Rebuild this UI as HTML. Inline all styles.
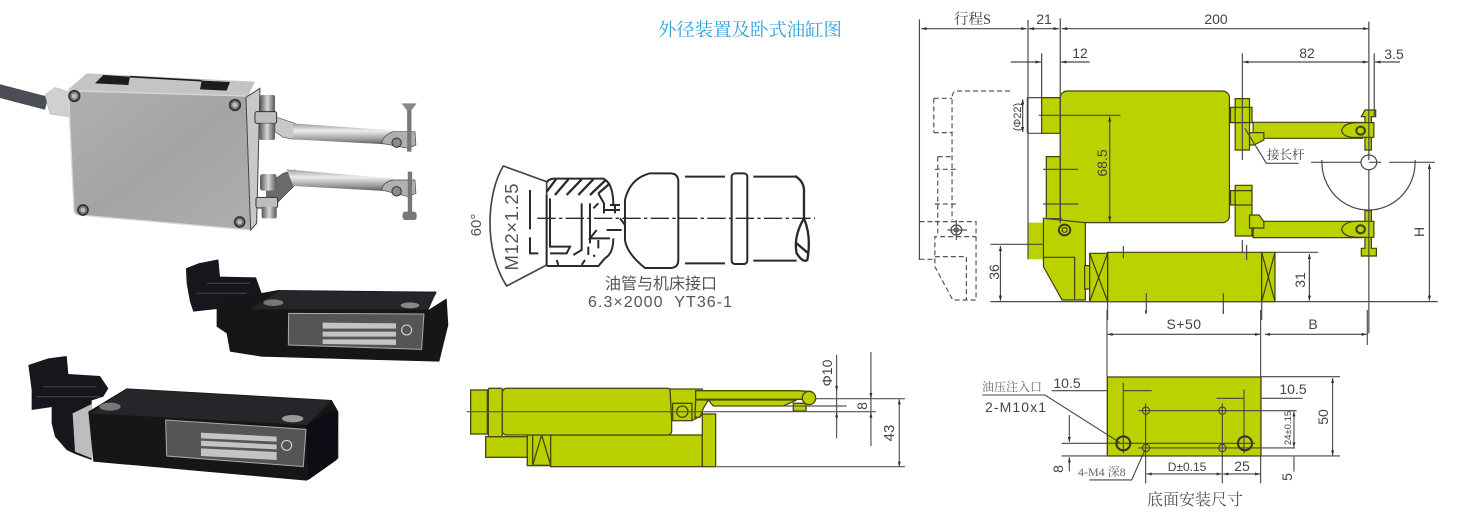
<!DOCTYPE html>
<html><head><meta charset="utf-8"><style>
html,body{margin:0;padding:0;background:#fff}
svg{display:block}
text{font-family:"Liberation Sans","Noto Sans CJK SC",sans-serif;fill:#444;filter:blur(.25px)}
.s{font-family:"Liberation Serif","Noto Serif CJK SC",serif}
.l *{vector-effect:non-scaling-stroke}
</style></head><body>
<svg width="1459" height="514" viewBox="0 0 1459 514" xmlns="http://www.w3.org/2000/svg">
<defs>
<filter id="b"><feGaussianBlur stdDeviation="0.45"/></filter>
<filter id="b2"><feGaussianBlur stdDeviation="0.7"/></filter>
<linearGradient id="pl" x1="0" y1="0" x2="1" y2="1"><stop offset="0" stop-color="#b0b0b0"/><stop offset=".5" stop-color="#a4a4a4"/><stop offset="1" stop-color="#aeaeae"/></linearGradient>
<linearGradient id="arm" x1="0" y1="0" x2="0" y2="1"><stop offset="0" stop-color="#9a9a9a"/><stop offset=".35" stop-color="#ededed"/><stop offset=".75" stop-color="#999"/><stop offset="1" stop-color="#555"/></linearGradient>
<linearGradient id="nut" x1="0" y1="0" x2="1" y2="0"><stop offset="0" stop-color="#555"/><stop offset=".5" stop-color="#d8d8d8"/><stop offset="1" stop-color="#555"/></linearGradient>
<marker id="a" viewBox="0 0 10 6" refX="10" refY="3" markerWidth="16" markerHeight="9" markerUnits="userSpaceOnUse" orient="auto-start-reverse"><path d="M0,0L10,3L0,6z" fill="#333"/></marker>
</defs>

<!-- top photo -->
<g transform="translate(0,60) scale(.3333)" filter="url(#b2)">
<path d="M-5,92L140,130" stroke="#4c4f55" stroke-width="40" fill="none"/>
<path d="M135,105L165,82L215,100L205,170L150,162z" fill="#d0d0d0" stroke="#888"/>
<path d="M205,88L260,40L765,65L745,108L205,95z" fill="#c4c4c4"/>
<path d="M285,70L310,45L390,50L385,75zM600,88L605,62L690,66L680,92z" fill="#1c1c1c"/>
<path d="M390,50L605,62" stroke="#1c1c1c" stroke-width="5"/>
<path d="M205,92L735,108Q745,110 745,125L752,510L235,465Q222,462 222,450z" fill="url(#pl)" stroke="#d8d8d8" stroke-width="4"/>
<path d="M738,112L780,85L770,490L752,510z" fill="#c8c8c8" stroke="#444" stroke-width="3"/>
<g fill="#777" stroke="#333" stroke-width="5"><circle cx="223" cy="108" r="16"/><circle cx="705" cy="135" r="16"/><circle cx="249" cy="450" r="15"/><circle cx="719" cy="486" r="15"/></g>
<g fill="#bbb"><circle cx="223" cy="108" r="8"/><circle cx="705" cy="135" r="8"/><circle cx="249" cy="450" r="7"/><circle cx="719" cy="486" r="7"/></g>
<!-- clamps -->
<path d="M825,170L885,190V238L850,232L825,215z" fill="#c8c8c8" stroke="#555" stroke-width="2"/>
<rect x="780" y="105" width="45" height="70" rx="6" fill="url(#nut)"/>
<rect x="765" y="155" width="65" height="35" rx="6" fill="#bdbdbd" stroke="#333" stroke-width="3"/>
<rect x="778" y="190" width="47" height="50" rx="6" fill="url(#nut)"/>
<path d="M850,340L885,330L885,375L835,425H800V375z" fill="#6a6a6a" stroke="#333" stroke-width="2"/>
<rect x="780" y="342" width="50" height="50" rx="8" fill="url(#nut)"/>
<rect x="768" y="412" width="65" height="32" rx="6" fill="#bdbdbd" stroke="#333" stroke-width="3"/>
<rect x="785" y="440" width="45" height="35" rx="6" fill="url(#nut)"/>
<!-- arms -->
<path d="M880,190L1190,212L1195,255L880,238z" fill="url(#arm)"/>
<path d="M860,328L1180,356L1195,395L880,378z" fill="url(#arm)"/>
<path d="M1145,250Q1150,225 1180,215L1245,215L1248,255L1225,265z" fill="#b0b0b0" stroke="#444" stroke-width="2"/>
<path d="M1145,390Q1150,365 1180,360L1245,360L1248,400L1225,410z" fill="#b0b0b0" stroke="#444" stroke-width="2"/>
<circle cx="1190" cy="248" r="14" fill="#8a8a8a" stroke="#333" stroke-width="3"/><circle cx="1190" cy="394" r="14" fill="#8a8a8a" stroke="#333" stroke-width="3"/>
<path d="M1228,150V275M1230,335V465" stroke="#777" stroke-width="13"/>
<path d="M1205,130H1250L1235,150H1220z" fill="#888"/><rect x="1208" y="455" width="42" height="25" rx="8" fill="#777"/>
</g>

<!-- black modules -->
<g transform="translate(20,250) scale(.3333)" filter="url(#b2)">
<path d="M498,55L535,40L595,28L600,80L708,82L725,130L660,150L655,170L520,185L510,155L500,100z" fill="#17181a"/>
<path d="M530,130H680M560,100H690" stroke="#3a3b40" stroke-width="4"/>
<path d="M590,165L665,140L775,120L1250,125L1225,180L1280,145L1285,225L1258,335L725,320L630,305L620,250L590,230z" fill="#131416"/>
<path d="M780,122L1250,128L1222,178L690,178z" fill="#25262a"/>
<ellipse cx="760" cy="158" rx="30" ry="10" fill="#777"/><ellipse cx="1170" cy="166" rx="28" ry="9" fill="#888"/>
<path d="M806,190L1212,192L1205,298L805,285z" fill="#555" stroke="#aaa" stroke-width="3"/>
<path d="M908,218L1128,220V236H908zM908,245H1128V260H908zM908,268H1128V285L908,282z" fill="#c4c4c4"/>
<circle cx="1160" cy="240" r="15" fill="none" stroke="#ddd" stroke-width="3"/>
<path d="M25,345L85,325L140,318L145,372L240,378L265,415L250,440L205,455L35,480L35,420z" fill="#15161a"/>
<path d="M70,410H230M50,440H240" stroke="#3a3b40" stroke-width="4"/>
<path d="M95,470L215,445L215,630L165,612L140,600L105,560L95,520z" fill="#15161a"/>
<path d="M158,490L215,462L215,625L165,605z" fill="#bdbdbd"/>
<path d="M205,485L320,415L935,450L955,485L955,625L860,692L220,635z" fill="#131416"/>
<path d="M320,417L933,452L860,525L210,490z" fill="#25262a"/>
<path d="M860,525L935,480L955,490L950,630L865,690z" fill="#0f1012"/>
<ellipse cx="270" cy="470" rx="32" ry="12" fill="#777"/><ellipse cx="818" cy="506" rx="32" ry="11" fill="#999"/>
<path d="M437,510L858,538L850,650L440,618z" fill="#555" stroke="#aaa" stroke-width="3"/>
<path d="M543,548L770,560V575L543,565zM543,572L770,584V598L543,588zM543,595L770,606V630L543,618z" fill="#c4c4c4"/>
<circle cx="800" cy="586" r="15" fill="none" stroke="#ddd" stroke-width="3"/>
</g>

<!-- title -->
<text x="658" y="36" class="s" font-size="18.4" style="fill:#2f9fdc">外径装置及卧式油缸图</text>

<!-- center connector drawing -->
<g transform="translate(450,150) scale(.3333)" filter="url(#b)" fill="none" stroke="#2c2c2c" stroke-width="6">
<path d="M170,408C100,300 110,130 160,48L290,95L290,345z" stroke="#444" stroke-width="5"/>
<path d="M290,98Q295,88 310,86H460Q490,100 490,165M490,265Q490,310 465,325L445,348H290"/>
<path d="M290,125L318,88M315,135L355,88M350,135L395,88M385,135L430,88M420,135L465,92M445,130L480,100" stroke-width="7"/>
<path d="M290,135V345M300,145V290H360L350,310H300M395,160V300L370,315M420,160V280M445,130L462,160V190M445,160L430,175M440,240L420,265L480,265M465,180H510M470,240H515M480,165H510M495,165V190M510,205L525,225V245M415,290V315M445,270V295M320,330L325,345M405,330L395,345M430,315L435,320"/>
<path d="M240,120V238M240,262V310H265" />
<path d="M262,205H1095" stroke-dasharray="55,10,10,10" stroke-width="4"/>
<path d="M600,70H660Q685,70 685,95V330Q685,354 660,354H585Q530,310 525,270V150Q540,85 600,70z"/>
<path d="M705,80H825M705,340H825M910,80H1040M910,332H1040" />
<rect x="845" y="70" width="47" height="272" rx="10"/>
<path d="M1035,78Q1065,95 1062,130V205Q1030,260 1040,310Q1060,340 1072,330Q1085,260 1062,205M1040,280L1075,310" stroke-width="7"/>
</g>
<text transform="translate(518,227) rotate(-90)" text-anchor="middle" font-size="18.5" textLength="87" style="fill:#555">M12×1.25</text>
<text transform="translate(481,225) rotate(-90)" text-anchor="middle" font-size="15" style="fill:#555">60°</text>
<text x="605" y="289" font-size="16" style="fill:#555">油管与机床接口</text>
<text x="588" y="307" font-size="16" textLength="144" xml:space="preserve" style="fill:#555">6.3×2000  YT36-1</text>

<!-- lower center drawing -->
<g transform="translate(450,340) scale(.3333)" filter="url(#b)" stroke="#4a4a10" stroke-width="4">
<rect x="62" y="150" width="50" height="132" fill="#bbd000"/>
<rect x="107" y="290" width="125" height="62" fill="#bbd000"/>
<rect x="232" y="285" width="70" height="92" fill="#bbd000"/>
<path d="M248,376V285M302,285V376M248,376L275,285L302,376M248,376H302" fill="none"/>
<rect x="302" y="285" width="455" height="95" fill="#bbd000"/>
<rect x="757" y="222" width="40" height="158" fill="#bbd000"/>
<rect x="115" y="145" width="42" height="145" rx="4" fill="#bbd000"/>
<rect x="157" y="145" width="508" height="140" rx="12" fill="#bbd000"/>
<path d="M660,147H757V225L730,240H665z" fill="#bbd000"/>
<path d="M737,152H1045L1085,155L1095,178H737z" fill="#bbd000"/>
<path d="M737,180H775L760,205L750,232H735z" fill="#bbd000"/>
<path d="M775,180H1040L1000,198H790z" fill="#bbd000"/>
<rect x="668" y="190" width="58" height="52" fill="#bbd000"/>
<circle cx="697" cy="215" r="17" fill="#bbd000"/>
<path d="M1030,190H1068V213H1030z" fill="#bbd000"/><circle cx="1077" cy="174" r="20" fill="#bbd000"/>
<g fill="none" stroke="#555" stroke-width="3.5">
<path d="M50,215H1278M1095,176H1365M800,380H1365M1000,198H1190"/>
<path d="M1160,45V295M1263,36V318"/>
<path d="M1160,135V153" marker-end="url(#a)"/><path d="M1160,235V217" marker-end="url(#a)"/>
<path d="M1263,155V174" marker-end="url(#a)"/><path d="M1263,236V218" marker-end="url(#a)"/>
<path d="M1348,178V380" marker-start="url(#a)" marker-end="url(#a)"/>
</g>
</g>
<text transform="translate(832,373) rotate(-90)" text-anchor="middle" font-size="14">Φ10</text>
<text transform="translate(867,406) rotate(-90)" text-anchor="middle" font-size="14">8</text>
<text transform="translate(894,433) rotate(-90)" text-anchor="middle" font-size="15">43</text>

<!-- right top drawing -->
<g class="l" transform="translate(899,0) scale(.3584,.3333)" filter="url(#b)" stroke="#3f3f14" stroke-width="1.2">
<path d="M398,293H450V400H398z" fill="#bcd200"/>
<path d="M411,470H450V665H411z" fill="#bcd200"/>
<rect x="450" y="273" width="472" height="395" rx="20" fill="#bcd200"/>
<rect x="360" y="668" width="44" height="110" fill="#bcd200" stroke="none"/>
<path d="M403,655L520,668V900H455L403,800z" fill="#bcd200"/>
<path d="M403,772H490V898" fill="none"/>
<rect x="518" y="797" width="14" height="70" fill="#bcd200"/>
<rect x="582" y="757" width="430" height="148" fill="#bcd200"/>
<rect x="532" y="760" width="50" height="145" fill="#bcd200"/>
<rect x="1012" y="757" width="37" height="148" fill="#bcd200"/>
<path d="M532,760L582,905M582,760L532,905M1012,757L1049,905M1049,757L1012,905" fill="none"/>
<rect x="988" y="367" width="305" height="48" fill="#bcd200"/>
<rect x="988" y="664" width="305" height="49" fill="#bcd200"/>
<path d="M938,296H978V450H938zM925,322H985V368H925z" fill="#bcd200"/>
<path d="M978,398H1018V420L990,435H978z" fill="#bcd200"/>
<path d="M938,556H985V708H938zM925,572H985V615H925z" fill="#bcd200"/>
<path d="M978,645H1005L1018,665V684H978z" fill="#bcd200"/>
<path d="M1300,330H1330V350H1318V450H1300V350H1290z" fill="#bcd200"/>
<path d="M1300,632H1318V745H1332V768H1290V745H1300z" fill="#bcd200"/>
<path d="M1235,392Q1240,368 1280,368H1325V412H1280Q1240,415 1235,392z" fill="#bcd200"/>
<path d="M1235,688Q1240,664 1280,664H1325V712H1280Q1240,712 1235,688z" fill="#bcd200"/>
<circle cx="1288" cy="392" r="12" fill="#bcd200" stroke-width="2"/><circle cx="1288" cy="688" r="12" fill="#bcd200" stroke-width="2"/>
<circle cx="462" cy="690" r="16" fill="#bcd200" stroke-width="2"/><circle cx="462" cy="690" r="7" fill="none"/>
<g fill="none" stroke="#4a4a4a">
<path d="M57,58V780M360,60V778M450,55V670M398,160V293M1311,65V480M1326,160V350M958,160V480M1311,510V1000M958,720V760"/>
<path d="M62,86H356" marker-start="url(#a)" marker-end="url(#a)"/>
<path d="M362,86H446" marker-start="url(#a)" marker-end="url(#a)"/>
<path d="M454,86H1310" marker-start="url(#a)" marker-end="url(#a)"/>
<path d="M312,186H396" marker-end="url(#a)"/><path d="M532,186H452" marker-end="url(#a)"/>
<path d="M960,186H1309" marker-start="url(#a)" marker-end="url(#a)"/>
<path d="M1398,186H1328" marker-end="url(#a)"/>
<path d="M358,293V400M358,293H398M358,400H398"/>
<path d="M345,298V396" marker-start="url(#a)" marker-end="url(#a)"/>
<path d="M390,346H618M402,508H500M402,612H500M412,656H450"/>
<path d="M588,350V665" marker-start="url(#a)" marker-end="url(#a)"/>
<path d="M255,733H400M255,905H1503M1050,757H1170"/>
<path d="M283,738V902" marker-start="url(#a)" marker-end="url(#a)"/>
<path d="M1145,762V902" marker-start="url(#a)" marker-end="url(#a)"/>
<path d="M1480,492V902" marker-start="url(#a)" marker-end="url(#a)"/>
<path d="M1150,487H1495" stroke-dasharray="50,8,12,8"/>
<path d="M1180,480V487A130,143 0 0 0 1440,487V480"/>
<circle cx="1311" cy="487" r="22"/>
<path d="M965,385L1025,490H1115"/>
<path d="M626,738V775M970,735V780M690,880V940M905,880V940M582,905V960M1012,905V960"/>
</g>
<g fill="none" stroke="#555" stroke-dasharray="5,3">
<path d="M310,273H160Q148,275 148,295V660M97,295H148M97,398H148M97,295V398"/>
<path d="M108,470H148M108,470V700M100,508H162M100,612H162"/>
<path d="M57,665H100M57,778H100M100,665H215V900H150L100,800V710H215M100,770H188V900"/>
</g>
<circle cx="160" cy="690" r="15" fill="none" stroke="#444"/><circle cx="160" cy="690" r="6" fill="none" stroke="#444"/>
<path d="M135,690H190M160,660V720" stroke="#555" fill="none"/>
</g>
<g font-size="14">
<text x="954" y="24" class="s" font-size="14.5">行程S</text>
<text x="1044" y="24" text-anchor="middle">21</text>
<text x="1216" y="24" text-anchor="middle">200</text>
<text x="1080" y="58" text-anchor="middle">12</text>
<text x="1307" y="58" text-anchor="middle">82</text>
<text x="1394" y="59" text-anchor="middle">3.5</text>
<text transform="translate(1021,117) rotate(-90)" text-anchor="middle" font-size="11">(Φ22)</text>
<text transform="translate(1107,163) rotate(-90)" text-anchor="middle">68.5</text>
<text transform="translate(1424,232) rotate(-90)" text-anchor="middle">H</text>
<text transform="translate(999,272) rotate(-90)" text-anchor="middle">36</text>
<text transform="translate(1305,280) rotate(-90)" text-anchor="middle">31</text>
<text x="1267" y="159" class="s" font-size="12.5">接长杆</text>
</g>

<!-- bottom right -->
<g class="l" transform="translate(950,310) scale(.3333)" filter="url(#b)">
<rect x="472" y="201" width="461" height="237" fill="#bcd200" stroke="#3f3f14" stroke-width="1.3"/>
<g fill="none" stroke="#444" stroke-width="1.1">
<path d="M471,0V200M932,0V200M1252,0V105M587,0V12M820,0V12"/>
<path d="M473,73H930" marker-start="url(#a)" marker-end="url(#a)"/>
<path d="M945,73H1250" marker-start="url(#a)" marker-end="url(#a)"/>
<path d="M305,242H470M520,242H605" /><path d="M800,265H880M935,265H1058"/>
<path d="M933,200H1170M335,438H1170M335,400H915M565,302H1040M565,414H1035"/>
<path d="M1148,204V436" marker-start="url(#a)" marker-end="url(#a)"/>
<path d="M1032,304V412" marker-start="url(#a)" marker-end="url(#a)"/>
<path d="M1032,440V485"/>
<path d="M358,315V396" marker-end="url(#a)"/><path d="M358,484V442" marker-end="url(#a)"/>
<path d="M520,218V430M882,238V430M587,280V520M817,280V520M932,438V520"/>
<path d="M590,492H815" marker-start="url(#a)" marker-end="url(#a)"/>
<path d="M820,492H930" marker-start="url(#a)" marker-end="url(#a)"/>
<path d="M97,255H285L510,398M418,510H545L585,420"/>
<circle cx="588" cy="302" r="11"/><circle cx="817" cy="302" r="11"/><circle cx="588" cy="414" r="11"/><circle cx="817" cy="414" r="11"/>
</g>
<circle cx="520" cy="400" r="21" fill="none" stroke="#333" stroke-width="2"/>
<circle cx="885" cy="400" r="21" fill="none" stroke="#333" stroke-width="2"/>
</g>
<g font-size="14">
<text x="1184" y="329" text-anchor="middle" letter-spacing=".5">S+50</text>
<text x="1313" y="329" text-anchor="middle">B</text>
<text x="1067" y="388" text-anchor="middle">10.5</text>
<text x="1293" y="394" text-anchor="middle">10.5</text>
<text x="982" y="391" class="s" font-size="12" style="fill:#666">油压注入口</text>
<text x="985" y="412" font-size="14" textLength="61">2-M10x1</text>
<text transform="translate(1328,417) rotate(-90)" text-anchor="middle">50</text>
<text transform="translate(1291,428) rotate(-90)" text-anchor="middle" font-size="9.5">24±0.15</text>
<text x="1187" y="471" text-anchor="middle" font-size="12">D±0.15</text>
<text x="1242" y="471" text-anchor="middle">25</text>
<text transform="translate(1063,469) rotate(-90)" text-anchor="middle">8</text>
<text transform="translate(1292,477) rotate(-90)" text-anchor="middle">5</text>
<text x="1078" y="476" class="s" font-size="12" style="fill:#666">4-M4 深8</text>
<text x="1147" y="505" class="s" font-size="16" style="fill:#555">底面安装尺寸</text>
</g>
</svg>
</body></html>
